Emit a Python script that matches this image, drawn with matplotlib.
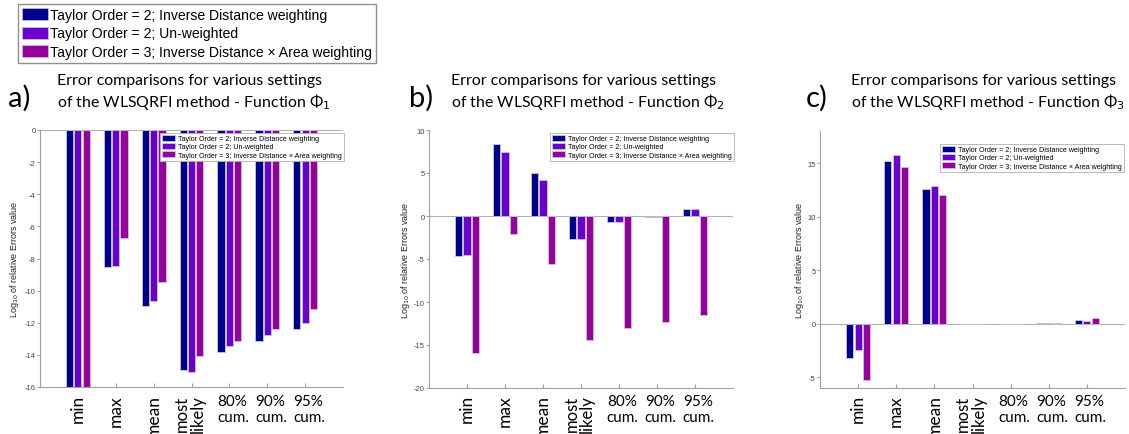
import matplotlib
matplotlib.use("Agg")
import matplotlib.pyplot as plt
from matplotlib.patches import Patch
import matplotlib.transforms as mtransforms
import numpy as np

categories = ["min", "max", "mean", "most\nlikely", "80%\ncum.", "90%\ncum.", "95%\ncum."]
series_names = ["Taylor Order = 2; Inverse Distance weighting",
                "Taylor Order = 2; Un-weighted",
                "Taylor Order = 3; Inverse Distance \u00d7 Area weighting"]
colors = ["#00008F", "#6A00CD", "#98009A"]

phi1_idw = [-16.0, -8.5, -10.98, -14.97, -13.84, -13.16, -12.37]
phi1_unw = [-16.0, -8.45, -10.67, -15.05, -13.47, -12.77, -12.04]
phi1_ida = [-16.0, -6.75, -9.44, -14.1, -13.12, -12.39, -11.15]

phi2_idw = [-4.7, 8.41, 4.95, -2.68, -0.7, -0.15, 0.77]
phi2_unw = [-4.58, 7.48, 4.14, -2.65, -0.66, -0.15, 0.85]
phi2_ida = [-15.93, -2.06, -5.63, -14.38, -13.0, -12.3, -11.55]

phi3_idw = [-3.2, 15.19, 12.63, -0.05, -0.05, 0.05, 0.35]
phi3_unw = [-2.44, 15.74, 12.87, -0.05, -0.05, 0.05, 0.3]
phi3_ida = [-5.28, 14.67, 12.07, -0.05, -0.05, 0.1, 0.5]

panels = [
    dict(letter="a)", sub="1", data=[phi1_idw, phi1_unw, phi1_ida], ylim=(-16, 0),
         yticks=[0, -2, -4, -6, -8, -10, -12, -14, -16],
         box=(40, 343, 131, 388), letter_xy=(8, 98), title_xy=(57, 74),
         ylabel_x=15, leg_xy=(160, 134)),
    dict(letter="b)", sub="2", data=[phi2_idw, phi2_unw, phi2_ida], ylim=(-20, 10),
         yticks=[10, 5, 0, -5, -10, -15, -20],
         box=(429, 733, 131, 389), letter_xy=(409, 98), title_xy=(451, 74),
         ylabel_x=406, leg_xy=(550, 134)),
    dict(letter="c)", sub="3", data=[phi3_idw, phi3_unw, phi3_ida], ylim=(-6, 18),
         yticks=[15, 10, 5, 0, -5],
         box=(820, 1125, 132, 389), letter_xy=(806, 98), title_xy=(851, 74),
         ylabel_x=799, leg_xy=(940, 145)),
]

W, H = 1129, 435
fig = plt.figure(figsize=(W / 100, H / 100), dpi=100)

title_font = ["Lato", "DejaVu Sans"]
spine_col = "#a0a0a0"

x = np.arange(1, len(categories) + 1)
offsets = [-0.22, 0.0, 0.22]
bw = 0.19

for p in panels:
    l, r, t, b = p["box"]
    ax = fig.add_axes([l / W, 1 - b / H, (r - l) / W, (b - t) / H])
    for vals, off, c, name in zip(p["data"], offsets, colors, series_names):
        ax.bar(x + off, vals, width=bw, color=c, edgecolor="#c8c8d8", linewidth=0.6, label=name, zorder=2)
    ax.axhline(0, color="#b0b0b0", lw=0.8, zorder=1)
    ax.set_xlim(0, 8)
    ax.set_ylim(*p["ylim"])
    ax.set_yticks(p["yticks"])
    ax.set_yticklabels([str(v) for v in p["yticks"]], fontsize=5.5, color="#444444",
                       family="Liberation Sans")
    ax.set_xticks(x)
    ax.set_xticklabels([])
    ax.tick_params(axis="x", direction="in", length=3, color=spine_col)
    ax.tick_params(axis="y", direction="out", length=2, color=spine_col, pad=1)
    for s in ["top", "right"]:
        ax.spines[s].set_visible(False)
    for s in ["left", "bottom"]:
        ax.spines[s].set_color(spine_col)
        ax.spines[s].set_linewidth(0.8)
    # category labels
    trans = mtransforms.blended_transform_factory(ax.transData, fig.transFigure)
    ylab = 1 - 395 / H
    for xi, cat in zip(x, categories):
        if cat in ("min", "max", "mean"):
            ax.text(xi, ylab, cat, transform=trans, rotation=90, ha="center", va="top",
                    fontsize=12.5, family=title_font)
        elif cat.startswith("most"):
            ax.text(xi - 0.05, ylab, cat, transform=trans, rotation=90, ha="center", va="top",
                    multialignment="center", fontsize=12, family=title_font, linespacing=0.95)
        else:
            ax.text(xi + 0.1, ylab, cat, transform=trans, ha="center", va="top",
                    multialignment="left", fontsize=11, family=title_font, linespacing=1.2)
    # y label
    fig.text(p["ylabel_x"] / W, 1 - ((t + b) / 2) / H, "Log$_{10}$ of relative Errors value",
             rotation=90, ha="center", va="center", fontsize=6.5, family="Liberation Sans",
             color="#222222")
    # inner legend
    lx, ly = p["leg_xy"]
    leg = ax.legend(loc="upper left", bbox_to_anchor=(lx / W, 1 - ly / H),
                    bbox_transform=fig.transFigure, borderaxespad=0,
                    prop={"family": "Liberation Sans", "size": 5.15},
                    handlelength=1.8, handleheight=0.8, labelspacing=0.12, handletextpad=0.4,
                    borderpad=0.3, fancybox=False, framealpha=1, edgecolor="#b0b0b0")
    leg.get_frame().set_linewidth(0.6)
    # panel letter and title
    fig.text(p["letter_xy"][0] / W, 1 - p["letter_xy"][1] / H, p["letter"], fontsize=21,
             family=title_font, ha="left", va="center")
    tx, ty = p["title_xy"]
    fig.text(tx / W, 1 - ty / H,
             "Error comparisons for various settings\nof the WLSQRFI method - Function \u03a6$_{" + p["sub"] + "}$",
             fontsize=11.4, family=title_font, ha="left", va="top", linespacing=1.3)

# top legend
handles = [Patch(facecolor=c, edgecolor="#c8c8d8", linewidth=0.5) for c in colors]
fig.legend(handles, series_names, loc="upper left", bbox_to_anchor=(18 / W, 1 - 5 / H),
           bbox_transform=fig.transFigure, borderaxespad=0,
           prop={"family": "Liberation Sans", "size": 10.1},
           handlelength=1.85, handleheight=0.95, labelspacing=0.3, handletextpad=0.15,
           borderpad=0.3, fancybox=False, framealpha=1, edgecolor="#909090")

fig.savefig("out.png", dpi=100)
